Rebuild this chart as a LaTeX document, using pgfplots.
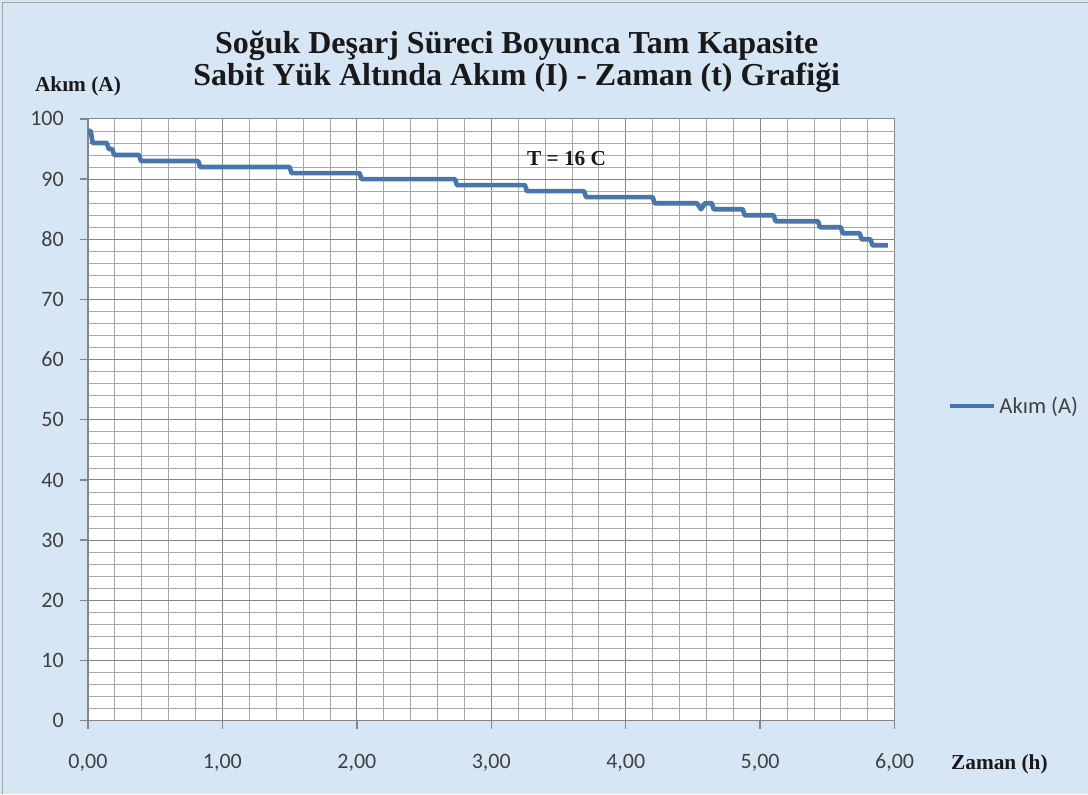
\documentclass[border=0pt]{standalone}
\usepackage{fontspec}
\setmainfont{Liberation Serif}
\newfontfamily\calibri{Carlito}
\usepackage{pgfplots}
\pgfplotsset{compat=1.18}
\definecolor{chartbg}{RGB}{215,230,245}
\definecolor{serieblue}{RGB}{72,118,172}
\definecolor{majorgrid}{RGB}{134,134,134}
\definecolor{minorgrid}{RGB}{168,168,168}
\definecolor{ticktext}{RGB}{64,64,64}

\begin{document}
\begin{tikzpicture}
  % chart area (1 px of the reference = 0.75pt)
  \fill[chartbg] (0pt,0pt) rectangle (816pt,595.5pt);
  \draw[gray!70, line width=0.75pt] (2.25pt,0pt) -- (2.25pt,593.25pt) -- (816pt,593.25pt);
  \useasboundingbox (0pt,0pt) rectangle (816pt,595.5pt);
  \begin{axis}[
      at={(66pt,54.75pt)}, anchor=south west,
      scale only axis,
      width=605.25pt, height=451.5pt,
      xmin=0, xmax=6, ymin=0, ymax=100,
      xtick={0,1,2,3,4,5,6},
      ytick={0,10,...,100},
      minor x tick num=4,
      minor y tick num=4,
      grid=both,
      major grid style={majorgrid, line width=0.75pt},
      minor grid style={minorgrid, line width=0.6pt},
      axis lines*=left,
      axis line style={majorgrid, line width=1pt},
      tick align=outside,
      major tick length=6pt,
      minor tick length=0pt,
      tick style={majorgrid, line width=1pt},
      axis background/.style={fill=white},
      /pgf/number format/assume math mode=true,
      xticklabel style={/pgf/number format/use comma, /pgf/number format/fixed,
        /pgf/number format/fixed zerofill, /pgf/number format/precision=2},
      xticklabel style={font=\calibri\fontsize{16.5}{18}\selectfont, text=ticktext,
        anchor=base, inner sep=0pt, yshift=-30pt},
      yticklabel style={font=\calibri\fontsize{16.5}{18}\selectfont, text=ticktext,
        anchor=east, inner sep=0pt, xshift=-12pt},
      legend style={at={(1.066,0.523)}, anchor=west, draw=none, fill=none,
        inner sep=0pt, font=\calibri\fontsize{17}{18}\selectfont, text=ticktext},
      legend image code/.code={\draw[#1] (0pt,0pt) -- (33pt,0pt);},
      clip=false,
    ]
    \addplot[serieblue, line width=3.5pt, line join=round] coordinates {
      (0,98) (0.02,98) (0.035,96) (0.14,96) (0.155,95) (0.18,95) (0.195,94)
      (0.38,94) (0.395,93) (0.82,93) (0.835,92) (1.50,92) (1.515,91)
      (2.02,91) (2.035,90) (2.73,90) (2.745,89) (3.25,89) (3.265,88)
      (3.69,88) (3.705,87) (4.20,87) (4.215,86) (4.53,86) (4.56,85)
      (4.59,86) (4.64,86) (4.655,85) (4.87,85) (4.885,84) (5.10,84)
      (5.115,83) (5.43,83) (5.445,82) (5.60,82) (5.615,81) (5.74,81)
      (5.755,80) (5.82,80) (5.835,79) (5.95,79)
    };
    \addlegendentry{Akım (A)}

    \node[font=\bfseries\fontsize{24}{24}\selectfont, text=black!90]
      at (rel axis cs:0.5316,1.121) {Soğuk Deşarj Süreci Boyunca Tam Kapasite};
    \node[font=\bfseries\fontsize{24}{24}\selectfont, text=black!90]
      at (rel axis cs:0.5316,1.069) {Sabit Yük Altında Akım (I) - Zaman (t) Grafiği};
    \node[font=\bfseries\fontsize{16}{16}\selectfont, text=black!90]
      at (rel axis cs:-0.0124,1.0548) {Akım (A)};
    \node[font=\bfseries\fontsize{16}{16}\selectfont, text=black!90, anchor=base,
      inner sep=0pt, yshift=-36.75pt]
      at (rel axis cs:1.130,0) {Zaman (h)};
    \node[font=\bfseries\fontsize{16}{16}\selectfont, text=black!90]
      at (axis cs:3.56,93.5) {T = 16 C};
  \end{axis}
\end{tikzpicture}
\end{document}
